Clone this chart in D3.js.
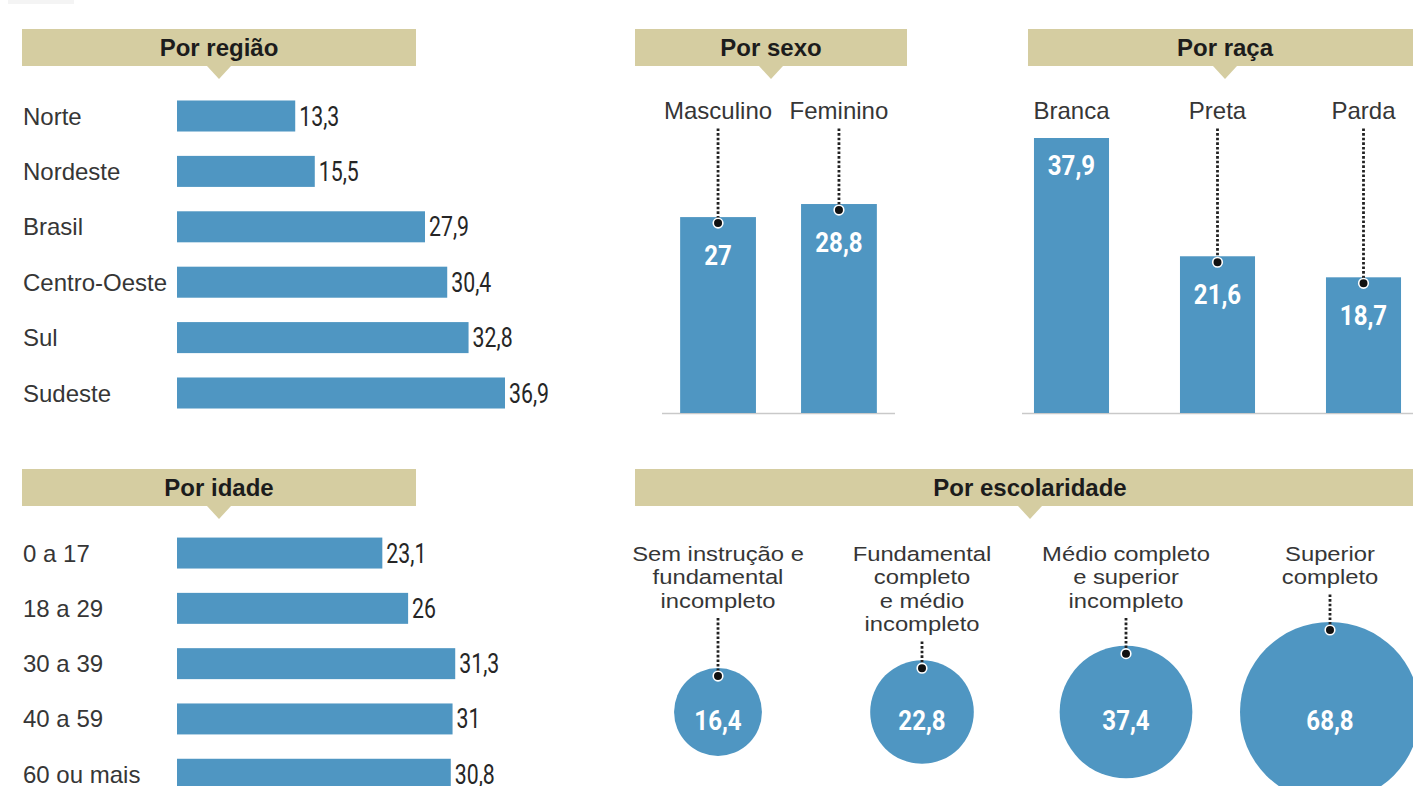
<!DOCTYPE html>
<html>
<head>
<meta charset="utf-8">
<script src="https://cdn.jsdelivr.net/npm/d3@7"></script>
<style>
  html, body { margin: 0; padding: 0; background: #fff; overflow: hidden; }
</style>
</head>
<body>
<svg id="chart" width="1413" height="786"></svg>
<script>
// ---------------- DATA ----------------
const regionCategories = ["Norte", "Nordeste", "Brasil", "Centro-Oeste", "Sul", "Sudeste"];
const regionValues = [13.3, 15.5, 27.9, 30.4, 32.8, 36.9];

const ageCategories = ["0 a 17", "18 a 29", "30 a 39", "40 a 59", "60 ou mais"];
const ageValues = [23.1, 26, 31.3, 31, 30.8];

const sexCategories = ["Masculino", "Feminino"];
const sexValues = [27, 28.8];

const raceCategories = ["Branca", "Preta", "Parda"];
const raceValues = [37.9, 21.6, 18.7];

const eduCategories = [
  "Sem instrução e\nfundamental\nincompleto",
  "Fundamental\ncompleto\ne médio\nincompleto",
  "Médio completo\ne superior\nincompleto",
  "Superior\ncompleto"
];
const eduValues = [16.4, 22.8, 37.4, 68.8];

const panelTitles = ["Por região", "Por sexo", "Por raça", "Por idade", "Por escolaridade"];

// ---------------- STYLE ----------------
const BLUE = "#4f96c2";
const TAN = "#d5cda1";
const SANS = "'Liberation Sans', Arial, Helvetica, sans-serif";
const NUM = "Roboto, 'Liberation Sans', sans-serif";
const LABEL_COL = "#363636";

const loc = d3.formatLocale({decimal: ",", thousands: ".", grouping: [3], currency: ["R$", ""]});
const fmt = loc.format("~f");

const svg = d3.select("#chart");

// faint remnant at top-left
svg.append("rect").attr("x", 8).attr("y", 0).attr("width", 66).attr("height", 4).attr("fill", "#f4f4f4");

function txt(g, x, y, s, o) {
  return g.append("text")
    .attr("transform", `translate(${x},${y}) scale(${o.sx || 1},1)`)
    .attr("text-anchor", o.anchor || "start")
    .attr("font-family", o.family || SANS)
    .attr("font-size", o.size || 24)
    .attr("font-weight", o.weight || 400)
    .attr("fill", o.fill || LABEL_COL)
    .text(s);
}

function header(x0, x1, y0, h, cx, title) {
  const g = svg.append("g");
  g.append("rect").attr("x", x0).attr("y", y0).attr("width", x1 - x0).attr("height", h).attr("fill", TAN);
  g.append("path")
    .attr("d", d3.line()([[cx - 12, y0 + h], [cx + 12, y0 + h], [cx, y0 + h + 13]]) + "Z")
    .attr("fill", TAN);
  txt(g, cx, y0 + h / 2 + 8.5, title, {anchor: "middle", weight: 700, size: 24, fill: "#1c1c1c"});
}

header(22, 416, 29, 37, 219, panelTitles[0]);
header(635, 907, 29, 37, 771, panelTitles[1]);
header(1028, 1413, 29, 37, 1225, panelTitles[2]);
header(22, 416, 469, 37, 219, panelTitles[3]);
header(635, 1413, 469, 37, 1030, panelTitles[4]);

// ---------------- HORIZONTAL BARS ----------------
const xH = d3.scaleLinear()
  .domain([0, d3.max([...regionValues, ...ageValues])])
  .range([177, 505]);

function hbars(cats, vals, yRange) {
  const y = d3.scaleBand().domain(cats).range(yRange).paddingInner(0.44).paddingOuter(0.22);
  const g = svg.append("g");
  const data = cats.map((c, i) => ({c, v: vals[i]}));
  g.selectAll("rect").data(data).join("rect")
    .attr("x", xH(0))
    .attr("y", d => y(d.c))
    .attr("width", d => xH(d.v) - xH(0))
    .attr("height", y.bandwidth())
    .attr("fill", BLUE);
  data.forEach(d => {
    const cy = y(d.c) + y.bandwidth() / 2;
    txt(g, 23, cy + 8.5, d.c, {size: 24});
    txt(g, xH(d.v) + 4, cy + 9.5, fmt(d.v), {family: NUM, size: 28, sx: 0.76, fill: "#262626"});
  });
}

hbars(regionCategories, regionValues, [88.3, 420.7]);
hbars(ageCategories, ageValues, [525.4, 801.9]);

// ---------------- VERTICAL BARS ----------------
const yV = d3.scaleLinear()
  .domain([0, d3.max([...sexValues, ...raceValues])])
  .range([413, 138]);

function dotted(g, x, y1, y2) {
  g.append("line").attr("x1", x).attr("x2", x).attr("y1", y1).attr("y2", y2)
    .attr("stroke", "#222").attr("stroke-width", 2.8).attr("stroke-dasharray", "2.6 2");
}
function dot(g, x, y) {
  g.append("circle").attr("cx", x).attr("cy", y).attr("r", 4.8)
    .attr("fill", "#111").attr("stroke", "#fff").attr("stroke-width", 1.6);
}

function vbars(cats, vals, xRange, pIn, pOut) {
  const x = d3.scaleBand().domain(cats).range(xRange).paddingInner(pIn).paddingOuter(pOut);
  const g = svg.append("g");
  const data = cats.map((c, i) => ({c, v: vals[i]}));
  g.append("line").attr("x1", xRange[0]).attr("x2", xRange[1]).attr("y1", yV(0) + 0.5).attr("y2", yV(0) + 0.5)
    .attr("stroke", "#c9c9c9").attr("stroke-width", 1.5);
  g.selectAll("rect.bar").data(data).join("rect").attr("class", "bar")
    .attr("x", d => x(d.c))
    .attr("y", d => yV(d.v))
    .attr("width", x.bandwidth())
    .attr("height", d => yV(0) - yV(d.v))
    .attr("fill", BLUE);
  const labelBase = 118.5;
  data.forEach(d => {
    const cx = x(d.c) + x.bandwidth() / 2;
    const top = yV(d.v);
    txt(g, cx, labelBase, d.c, {anchor: "middle", size: 24});
    const pointer = top - labelBase > 40;
    if (pointer) {
      dotted(g, cx, labelBase + 10, top + 6);
      dot(g, cx, top + 6);
    }
    const vc = top + (pointer ? 38 : 27);
    txt(g, cx, vc + 10, fmt(d.v), {anchor: "middle", family: NUM, size: 28, weight: 700, sx: 0.86, fill: "#fff"});
  });
}

vbars(sexCategories, sexValues, [662, 895], 0.373, 0.15);
vbars(raceCategories, raceValues, [1022, 1413], 0.486, 0.082);

// ---------------- BUBBLES ----------------
const rS = d3.scaleSqrt().domain([0, d3.max(eduValues)]).range([0, 90]);
const xE = d3.scalePoint().domain(eduCategories).range([718, 1330]);
const cyE = 712;
const gE = svg.append("g");
const eduData = eduCategories.map((c, i) => ({c, v: eduValues[i]}));

gE.selectAll("circle.b").data(eduData).join("circle").attr("class", "b")
  .attr("cx", d => xE(d.c)).attr("cy", cyE).attr("r", d => rS(d.v)).attr("fill", BLUE);

eduData.forEach(d => {
  const cx = xE(d.c);
  const lines = d.c.split("\n");
  const first = 553, lh = 23.5;
  lines.forEach((ln, j) => txt(gE, cx, first + j * lh + 7.5, ln, {anchor: "middle", size: 20.5, sx: 1.16}));
  const lastC = first + (lines.length - 1) * lh;
  const top = cyE - rS(d.v);
  dotted(gE, cx, lastC + 18, top + 8);
  dot(gE, cx, top + 8);
  txt(gE, cx, cyE + 18, fmt(d.v), {anchor: "middle", family: NUM, size: 28, weight: 700, sx: 0.86, fill: "#fff"});
});
</script>
</body>
</html>
